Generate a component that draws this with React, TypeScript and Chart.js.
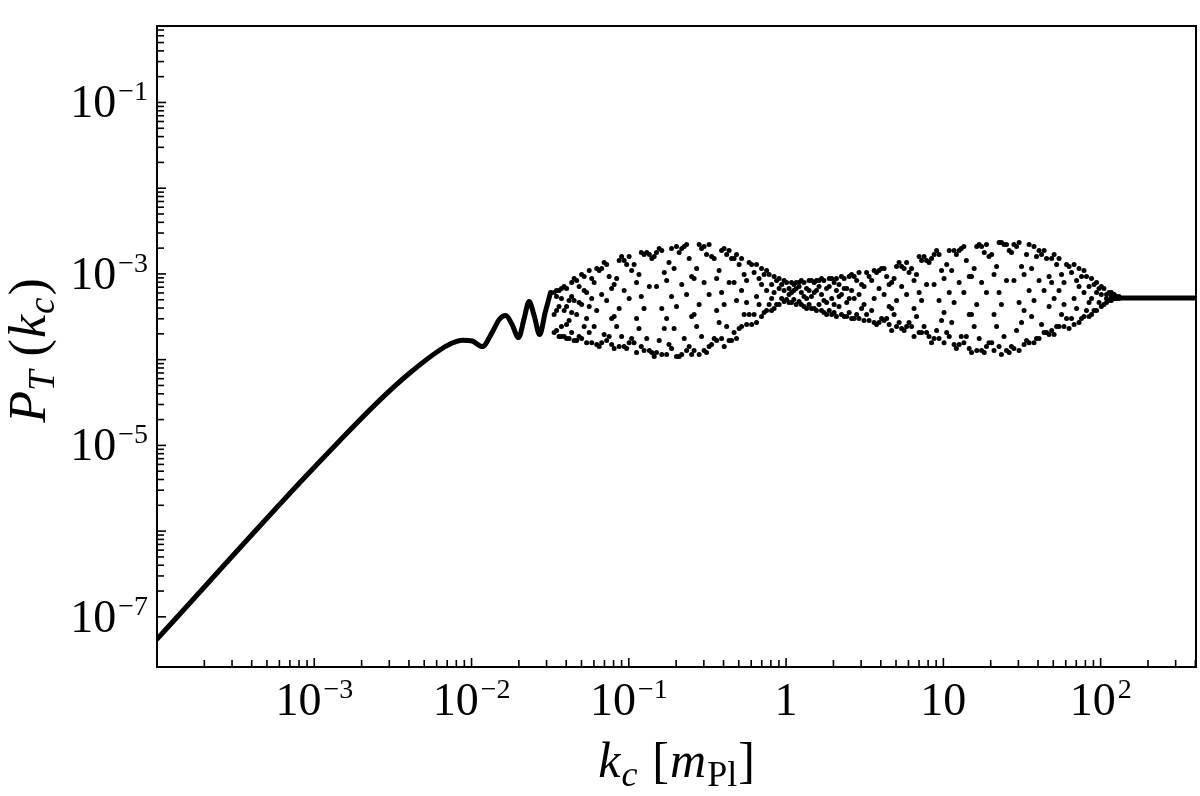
import { useEffect, useRef } from "react";
import { Chart, registerables } from "chart.js";

Chart.register(...registerables);

// ---- axis ranges ----
const xRange = [1.0e-4, 404];
const yRange = [2.6e-8, 0.78];

// ---- tick labels ----
const xTickValues = [1e-3, 1e-2, 1e-1, 1, 10, 100];
const xTickBase = ["10", "10", "10", "1", "10", "10"];
const xTickExp = ["\u22123", "\u22122", "\u22121", "", "", "2"];
const yTickValues = [1e-7, 1e-5, 1e-3, 1e-1];
const yTickBase = ["10", "10", "10", "10"];
const yTickExp = ["\u22127", "\u22125", "\u22123", "\u22121"];
const xDecades = [1e-4, 1e-3, 1e-2, 1e-1, 1, 10, 100];
const yDecades = [1e-7, 1e-6, 1e-5, 1e-4, 1e-3, 1e-2, 1e-1];
const minorSubs = [2, 3, 4, 5, 6, 7, 8, 9];

// ---- smooth low-k part of P_T(k_c) ----
const smoothK = [1.0e-4, 8.02e-4, 1.44e-3, 2.59e-3, 4.01e-3, 6.22e-3, 7.42e-3, 8.71e-3, 1.01e-2, 1.17e-2, 1.35e-2, 1.5e-2, 1.65e-2, 1.81e-2, 1.99e-2, 2.16e-2, 2.32e-2, 2.5e-2, 2.71e-2, 2.94e-2, 3.18e-2];
const smoothP = [5.5e-8, 3.61e-6, 1.12e-5, 3.33e-5, 6.89e-5, 1.28e-4, 1.54e-4, 1.69e-4, 1.65e-4, 1.42e-4, 2.07e-4, 2.94e-4, 3.27e-4, 2.57e-4, 1.81e-4, 3.02e-4, 4.76e-4, 3.27e-4, 1.96e-4, 3.55e-4, 6.07e-4];

// ---- first scattered band (k ~ 0.03 - 1) ----
const cloud1K = [0.0335, 0.0347, 0.036, 0.0373, 0.0388, 0.0402, 0.0417, 0.0433, 0.0449, 0.0466, 0.0483, 0.0501, 0.052, 0.0539, 0.056, 0.0581, 0.0602, 0.0625, 0.0648, 0.0672, 0.0697, 0.0723, 0.075, 0.0778, 0.0807, 0.0837, 0.0868, 0.09, 0.0934, 0.0969, 0.1005, 0.1042, 0.108, 0.112, 0.116, 0.12, 0.125, 0.13, 0.135, 0.14, 0.145, 0.15, 0.156, 0.162, 0.168, 0.174, 0.18, 0.187, 0.194, 0.201, 0.209, 0.217, 0.225, 0.233, 0.242, 0.251, 0.26, 0.27, 0.28, 0.29, 0.301, 0.312, 0.324, 0.336, 0.349, 0.362, 0.375, 0.389, 0.404, 0.419, 0.434, 0.45, 0.467, 0.484, 0.503, 0.521, 0.541, 0.561, 0.582, 0.604, 0.626, 0.649, 0.673, 0.698, 0.725, 0.752, 0.78, 0.809, 0.839, 0.87, 0.903, 0.937, 0.971, 1.007, 1.044];
const cloud1P = [
  [6.07e-4, 3.36e-4, 2.07e-4], [6.4e-4, 5.45e-4, 3.74e-4, 2.19e-4], [6.4e-4, 4.17e-4, 1.86e-4], [6.76e-4, 5.16e-4, 2.44e-4, 1.86e-4],
  [7.13e-4, 3.74e-4, 1.86e-4], [6.76e-4, 4.17e-4, 2.57e-4, 1.76e-4], [4.89e-4, 2.86e-4, 1.76e-4], [7.94e-4, 5.45e-4, 3.55e-4, 2.07e-4],
  [8.85e-4, 4.89e-4, 1.67e-4], [8.38e-4, 3.36e-4, 1.67e-4], [7.13e-4, 4.64e-4, 1.86e-4], [9.86e-4, 4.4e-4, 1.76e-4],
  [9.33e-4, 6.4e-4, 2.44e-4], [6.07e-4, 3.02e-4, 1.58e-4], [1.1e-3, 4.17e-4, 2.07e-4], [8.85e-4, 5.16e-4, 1.58e-4],
  [7.94e-4, 2.44e-4], [1.16e-3, 3.74e-4, 1.5e-4], [1.1e-3, 1.42e-4], [1.16e-3, 5.75e-4, 1.58e-4],
  [1.36e-3, 1.96e-4], [1.29e-3, 4.89e-4, 1.67e-4], [9.33e-4, 1.86e-4], [6.76e-4, 3.02e-4, 1.5e-4],
  [7.52e-4, 3.19e-4, 1.35e-4], [8.85e-4, 2.44e-4], [1.43e-3, 3.95e-4, 1.42e-4], [1.6e-3, 1.86e-4],
  [1.43e-3, 6.4e-4, 1.42e-4], [1.29e-3, 1.35e-4], [1.6e-3, 5.16e-4, 1.58e-4], [1.1e-3, 1.76e-4],
  [1.29e-3, 1.58e-4], [7.94e-4, 3.02e-4, 1.21e-4], [9.86e-4, 2.31e-4], [1.78e-3, 5.45e-4, 1.42e-4],
  [1.69e-3, 3.95e-4, 1.28e-4], [1.78e-3, 1.76e-4], [1.69e-3, 7.13e-4, 1.28e-4], [1.51e-3, 1.21e-4],
  [1.6e-3, 1.09e-4], [1.78e-3, 7.13e-4, 1.21e-4], [1.98e-3, 1.67e-4], [1.88e-3, 3.95e-4, 1.15e-4],
  [1.04e-3, 2.31e-4], [8.38e-4, 3.02e-4, 1.15e-4], [1.36e-3, 1.5e-4], [1.98e-3, 5.45e-4, 1.35e-4],
  [1.16e-3, 2.31e-4], [2.09e-3, 4.17e-4, 1.09e-4], [1.78e-3, 1.09e-4], [1.98e-3, 7.52e-4, 1.15e-4],
  [2.09e-3, 1.76e-4], [2.2e-3, 5.75e-4, 1.28e-4], [1.51e-3, 1.42e-4], [9.33e-4, 3.19e-4, 1.15e-4],
  [8.85e-4, 3.36e-4, 1.28e-4], [1.16e-3, 2.44e-4], [2.2e-3, 4.4e-4, 1.15e-4], [1.98e-3, 1.86e-4],
  [2.09e-3, 7.94e-4, 1.28e-4], [1.69e-3, 1.21e-4], [2.2e-3, 5.75e-4, 1.42e-4], [1.6e-3, 1.5e-4],
  [1.51e-3, 1.76e-4], [8.85e-4, 3.74e-4, 1.67e-4], [1.1e-3, 2.71e-4], [1.88e-3, 6.07e-4, 1.76e-4],
  [1.98e-3, 4.4e-4, 1.42e-4], [1.69e-3, 2.44e-4], [1.88e-3, 7.94e-4, 1.67e-4], [1.51e-3, 1.67e-4],
  [1.51e-3, 7.94e-4, 2.07e-4], [1.69e-3, 4.89e-4, 1.76e-4], [1.29e-3, 2.31e-4], [1.51e-3, 6.4e-4, 2.44e-4],
  [9.86e-4, 3.36e-4], [8.38e-4, 4.64e-4, 2.57e-4], [1.36e-3, 3.36e-4], [1.29e-3, 2.57e-4],
  [1.04e-3, 3.36e-4], [1.29e-3, 5.45e-4, 2.71e-4], [8.85e-4, 4.4e-4], [1.16e-3, 7.52e-4, 3.19e-4],
  [9.86e-4, 3.55e-4], [1.1e-3, 6.4e-4, 3.74e-4], [9.86e-4, 4.4e-4], [7.52e-4, 5.16e-4, 3.74e-4],
  [9.33e-4, 6.07e-4, 3.95e-4], [8.38e-4, 4.4e-4], [8.85e-4, 6.76e-4, 4.4e-4], [7.52e-4, 5.16e-4],
  [8.38e-4, 6.4e-4, 4.76e-4], [7.94e-4, 5.02e-4], [6.76e-4, 5.75e-4, 4.64e-4],
];

// ---- second scattered band (k ~ 1 - 130) ----
const cloud2K = [1.083, 1.12, 1.16, 1.21, 1.25, 1.3, 1.35, 1.4, 1.45, 1.51, 1.56, 1.62, 1.68, 1.74, 1.81, 1.88, 1.95, 2.02, 2.09, 2.17, 2.25, 2.34, 2.43, 2.52, 2.61, 2.71, 2.81, 2.91, 3.02, 3.13, 3.25, 3.37, 3.5, 3.63, 3.76, 3.9, 4.05, 4.2, 4.36, 4.52, 4.69, 4.86, 5.04, 5.23, 5.43, 5.63, 5.84, 6.05, 6.28, 6.51, 6.75, 7.01, 7.27, 7.54, 7.82, 8.11, 8.41, 8.73, 9.06, 9.39, 9.74, 10.1, 10.5, 10.9, 11.3, 11.7, 12.1, 12.6, 13.0, 13.5, 14.0, 14.6, 15.1, 15.7, 16.3, 16.9, 17.5, 18.2, 18.8, 19.5, 20.3, 21.0, 21.8, 22.6, 23.4, 24.3, 25.2, 26.2, 27.1, 28.1, 29.2, 30.3, 31.4, 32.6, 33.8, 35.1, 36.4, 37.7, 39.1, 40.6, 42.1, 43.7, 45.3, 47.0, 48.8, 50.6, 52.5, 54.4, 56.4, 58.5, 60.7, 63.0, 65.3, 67.8, 70.3, 72.9, 75.6, 78.4, 81.3, 84.4, 87.5, 90.8, 94.2, 97.7, 101, 105, 109, 113, 117, 122, 126, 131];
const cloud2P = [
  [7.94e-4, 6.07e-4, 4.64e-4], [7.52e-4, 6.4e-4, 5.02e-4], [7.94e-4, 6.76e-4, 4.4e-4], [7.94e-4, 7.13e-4, 4.76e-4],
  [8.38e-4, 6.07e-4, 4.4e-4], [7.94e-4, 5.45e-4, 4.17e-4], [6.76e-4, 5.16e-4, 3.95e-4], [8.38e-4, 6.4e-4, 4.4e-4],
  [8.38e-4, 5.45e-4, 3.95e-4], [7.94e-4, 6.07e-4, 3.95e-4], [8.38e-4, 6.4e-4, 3.74e-4], [8.38e-4, 7.13e-4, 4.4e-4],
  [8.85e-4, 5.75e-4, 3.74e-4], [8.38e-4, 4.89e-4, 3.55e-4], [6.76e-4, 4.64e-4, 3.36e-4], [8.85e-4, 7.13e-4, 3.74e-4],
  [8.85e-4, 5.16e-4, 3.36e-4], [7.94e-4, 4.4e-4, 3.55e-4], [8.85e-4, 6.4e-4, 3.19e-4], [7.52e-4, 5.45e-4, 4.17e-4],
  [9.33e-4, 5.75e-4, 3.36e-4], [8.85e-4, 6.76e-4, 3.19e-4], [6.76e-4, 4.64e-4, 3.19e-4], [9.33e-4, 5.16e-4, 3.55e-4],
  [9.86e-4, 6.4e-4, 3.02e-4], [9.33e-4, 5.16e-4, 3.02e-4], [8.38e-4, 3.36e-4], [1.04e-3, 5.75e-4, 3.02e-4],
  [7.52e-4, 3.95e-4], [7.13e-4, 4.4e-4, 2.86e-4], [1.04e-3, 3.36e-4], [9.33e-4, 2.86e-4],
  [8.38e-4, 3.74e-4], [1.1e-3, 5.16e-4, 2.71e-4], [1.04e-3, 2.57e-4], [1.1e-3, 6.76e-4, 2.71e-4],
  [1.16e-3, 3.02e-4], [1.16e-3, 5.75e-4, 2.86e-4], [9.33e-4, 3.02e-4], [7.52e-4, 4.17e-4, 2.57e-4],
  [7.94e-4, 3.95e-4, 2.19e-4], [8.85e-4, 3.36e-4], [1.22e-3, 4.89e-4, 2.44e-4], [1.36e-3, 2.71e-4],
  [1.22e-3, 7.13e-4, 2.31e-4], [1.16e-3, 2.19e-4], [1.36e-3, 5.75e-4, 2.44e-4], [1.04e-3, 2.71e-4],
  [1.16e-3, 2.44e-4], [8.38e-4, 3.95e-4, 1.86e-4], [9.86e-4, 3.19e-4], [1.6e-3, 6.07e-4, 2.07e-4],
  [1.43e-3, 4.89e-4, 2.07e-4], [1.6e-3, 2.44e-4], [1.43e-3, 7.52e-4, 2.07e-4], [1.36e-3, 1.86e-4],
  [1.51e-3, 1.58e-4], [1.69e-3, 7.52e-4, 1.76e-4], [1.88e-3, 2.19e-4], [1.69e-3, 4.89e-4, 1.76e-4],
  [1.1e-3, 2.86e-4], [8.85e-4, 3.55e-4, 1.58e-4], [1.29e-3, 2.07e-4], [1.88e-3, 6.07e-4, 1.86e-4],
  [1.1e-3, 2.71e-4], [1.88e-3, 4.64e-4, 1.5e-4], [1.69e-3, 1.35e-4], [1.88e-3, 7.94e-4, 1.5e-4],
  [1.98e-3, 1.86e-4], [2.09e-3, 6.07e-4, 1.58e-4], [1.43e-3, 1.86e-4], [9.33e-4, 3.36e-4, 1.35e-4],
  [9.33e-4, 3.36e-4, 1.21e-4], [1.16e-3, 2.44e-4], [2.09e-3, 4.4e-4, 1.28e-4], [2.2e-3, 1.76e-4],
  [2.09e-3, 7.94e-4, 1.28e-4], [1.78e-3, 1.21e-4], [2.2e-3, 6.07e-4, 1.42e-4], [1.6e-3, 1.58e-4],
  [1.69e-3, 1.58e-4], [9.86e-4, 3.36e-4, 1.28e-4], [1.22e-3, 2.44e-4], [2.32e-3, 6.07e-4, 1.42e-4],
  [2.32e-3, 4.4e-4, 1.15e-4], [2.2e-3, 1.86e-4], [2.2e-3, 8.38e-4, 1.28e-4], [1.88e-3, 1.21e-4],
  [1.78e-3, 1.42e-4], [2.2e-3, 8.38e-4, 1.35e-4], [2.09e-3, 2.19e-4], [2.32e-3, 4.64e-4, 1.28e-4],
  [1.22e-3, 2.71e-4], [9.86e-4, 3.74e-4, 1.5e-4], [1.69e-3, 1.67e-4], [2.2e-3, 6.4e-4, 1.58e-4],
  [1.16e-3, 3.19e-4], [2.09e-3, 4.89e-4, 1.58e-4], [1.6e-3, 1.76e-4], [1.88e-3, 8.38e-4, 1.76e-4],
  [1.69e-3, 2.57e-4], [1.88e-3, 6.4e-4, 2.07e-4], [1.51e-3, 2.07e-4], [9.33e-4, 4.17e-4, 1.96e-4],
  [1.51e-3, 7.94e-4, 2.19e-4], [1.69e-3, 5.16e-4, 1.96e-4], [1.29e-3, 2.44e-4], [1.51e-3, 6.4e-4, 2.44e-4],
  [9.86e-4, 3.36e-4], [7.94e-4, 4.4e-4, 2.44e-4], [1.29e-3, 3.02e-4], [1.22e-3, 2.31e-4],
  [1.04e-3, 3.02e-4], [1.29e-3, 5.16e-4, 2.57e-4], [8.38e-4, 3.95e-4], [1.16e-3, 7.13e-4, 2.71e-4],
  [9.33e-4, 3.02e-4], [1.1e-3, 6.07e-4, 3.19e-4], [9.33e-4, 3.74e-4], [7.13e-4, 4.64e-4, 3.19e-4],
  [8.85e-4, 5.16e-4, 3.36e-4], [7.52e-4, 3.74e-4], [7.94e-4, 6.07e-4, 3.74e-4], [6.76e-4, 4.64e-4],
  [7.13e-4, 5.75e-4, 4.17e-4], [6.76e-4, 4.4e-4], [5.75e-4, 5.16e-4, 4.64e-4], [6.07e-4, 4.89e-4],
  [6.07e-4, 5.45e-4, 4.89e-4], [5.75e-4, 5.16e-4], [5.45e-4, 5.16e-4], [5.45e-4, 5.16e-4],
];

// ---- flat high-k plateau ----
const flatK = [122, 404];
const flatP = [5.25e-4, 5.25e-4];

const SERIF = "'Liberation Serif', 'DejaVu Serif', serif";

type Run = { text: string; font: string; dy?: number; gap?: number };

function drawRuns(ctx: CanvasRenderingContext2D, runs: Run[], x: number, y: number, align: "left" | "center" | "right") {
  const widths = runs.map((r) => {
    ctx.font = r.font;
    return ctx.measureText(r.text).width;
  });
  const total = widths.reduce((s, w) => s + w, 0) + runs.reduce((s, r) => s + (r.gap || 0), 0);
  let cx = align === "center" ? x - total / 2 : align === "right" ? x - total : x;
  runs.forEach((r, i) => {
    cx += r.gap || 0;
    ctx.font = r.font;
    ctx.fillText(r.text, cx, y + (r.dy || 0));
    cx += widths[i];
  });
}

function tickRuns(base: string, exp: string): Run[] {
  const runs: Run[] = [{ text: base, font: `46px ${SERIF}` }];
  if (exp) runs.push({ text: exp, font: `28px ${SERIF}`, dy: -17, gap: 2 });
  return runs;
}

const axisDecor = {
  id: "axisDecor",
  afterDraw(chart: any) {
    const { ctx, chartArea: a } = chart;
    const xs = chart.scales.x;
    const ys = chart.scales.y;
    ctx.save();
    ctx.strokeStyle = "#000";
    ctx.fillStyle = "#000";
    ctx.lineCap = "butt";

    const seg = (x1: number, y1: number, x2: number, y2: number) => {
      ctx.beginPath();
      ctx.moveTo(x1, y1);
      ctx.lineTo(x2, y2);
      ctx.stroke();
    };

    // x ticks (inward)
    ctx.lineWidth = 1.6;
    for (const d of xDecades) {
      const px = xs.getPixelForValue(d);
      if (px > a.left + 1 && px < a.right - 1) seg(px, a.bottom, px, a.bottom - 9);
      for (const s of minorSubs) {
        const v = d * s;
        if (v <= xRange[0] || v >= xRange[1]) continue;
        const q = xs.getPixelForValue(v);
        seg(q, a.bottom, q, a.bottom - 7);
      }
    }
    // y ticks (inward)
    for (const d of yDecades) {
      const py = ys.getPixelForValue(d);
      if (py > a.top + 1 && py < a.bottom - 1) seg(a.left, py, a.left + 9, py);
      for (const s of minorSubs) {
        const v = d * s;
        if (v <= yRange[0] || v >= yRange[1]) continue;
        const q = ys.getPixelForValue(v);
        seg(a.left, q, a.left + 7, q);
      }
    }

    // frame
    ctx.lineWidth = 2;
    ctx.strokeRect(a.left, a.top, a.right - a.left, a.bottom - a.top);

    // tick labels
    ctx.textAlign = "left";
    ctx.textBaseline = "alphabetic";
    xTickValues.forEach((v, i) => {
      const px = xs.getPixelForValue(v);
      drawRuns(ctx, tickRuns(xTickBase[i], xTickExp[i]), px, a.bottom + 48, "center");
    });
    yTickValues.forEach((v, i) => {
      const py = ys.getPixelForValue(v);
      drawRuns(ctx, tickRuns(yTickBase[i], yTickExp[i]), a.left - 9, py + 15, "right");
    });

    // x axis title: k_c [m_Pl]
    const big = `50px ${SERIF}`;
    const bigI = `italic 50px ${SERIF}`;
    const sub = `36px ${SERIF}`;
    const subI = `italic 36px ${SERIF}`;
    drawRuns(
      ctx,
      [
        { text: "k", font: bigI },
        { text: "c", font: subI, dy: 9, gap: 1 },
        { text: "[", font: big, gap: 15 },
        { text: "m", font: bigI, gap: 1 },
        { text: "Pl", font: sub, dy: 9, gap: 1 },
        { text: "]", font: big, gap: 1 },
      ],
      (a.left + a.right) / 2,
      a.bottom + 110,
      "center"
    );

    // y axis title: P_T (k_c)
    const yBig = `52px ${SERIF}`;
    const yBigI = `italic 52px ${SERIF}`;
    const ySubI = `italic 37px ${SERIF}`;
    ctx.save();
    ctx.translate(45, (a.top + a.bottom) / 2 + 4);
    ctx.rotate(-Math.PI / 2);
    drawRuns(
      ctx,
      [
        { text: "P", font: yBigI },
        { text: "T", font: ySubI, dy: 9, gap: 0 },
        { text: "(", font: yBig, gap: 14 },
        { text: "k", font: yBigI, gap: 1 },
        { text: "c", font: ySubI, dy: 9, gap: 1 },
        { text: ")", font: yBig, gap: 2 },
      ],
      0,
      0,
      "center"
    );
    ctx.restore();

    ctx.restore();
  },
};

export default function App() {
  const ref = useRef<HTMLCanvasElement | null>(null);

  useEffect(() => {
    if (!ref.current) return;
    const smooth = smoothK.map((k, i) => ({ x: k, y: smoothP[i] }));
    const flat = flatK.map((k, i) => ({ x: k, y: flatP[i] }));
    const cloud: { x: number; y: number }[] = [];
    cloud1K.forEach((k, i) => (cloud1P[i] || []).forEach((p) => cloud.push({ x: k, y: p })));
    cloud2K.forEach((k, i) => (cloud2P[i] || []).forEach((p) => cloud.push({ x: k, y: p })));

    const chart = new Chart(ref.current, {
      type: "scatter",
      data: {
        datasets: [
          {
            data: smooth,
            showLine: true,
            borderColor: "#000",
            borderWidth: 5,
            pointRadius: 0,
            cubicInterpolationMode: "monotone",
            borderCapStyle: "round",
            borderJoinStyle: "round",
          } as any,
          {
            data: cloud,
            pointRadius: 2.5,
            pointBorderWidth: 0,
            pointBackgroundColor: "#000",
            backgroundColor: "#000",
            borderColor: "#000",
          },
          {
            data: flat,
            showLine: true,
            borderColor: "#000",
            borderWidth: 5,
            pointRadius: 0,
          } as any,
        ],
      },
      options: {
        responsive: false,
        animation: false,
        events: [],
        layout: { padding: { left: 157, right: 3, top: 26, bottom: 129 } },
        plugins: { legend: { display: false }, tooltip: { enabled: false } },
        scales: {
          x: { type: "logarithmic", display: false, min: xRange[0], max: xRange[1] },
          y: { type: "logarithmic", display: false, min: yRange[0], max: yRange[1] },
        },
      },
      plugins: [axisDecor],
    });
    return () => chart.destroy();
  }, []);

  return (
    <div style={{ position: "fixed", left: 0, top: 0, width: 1200, height: 796, background: "#fff" }}>
      <canvas ref={ref} width={1200} height={796} style={{ display: "block" }} />
    </div>
  );
}
